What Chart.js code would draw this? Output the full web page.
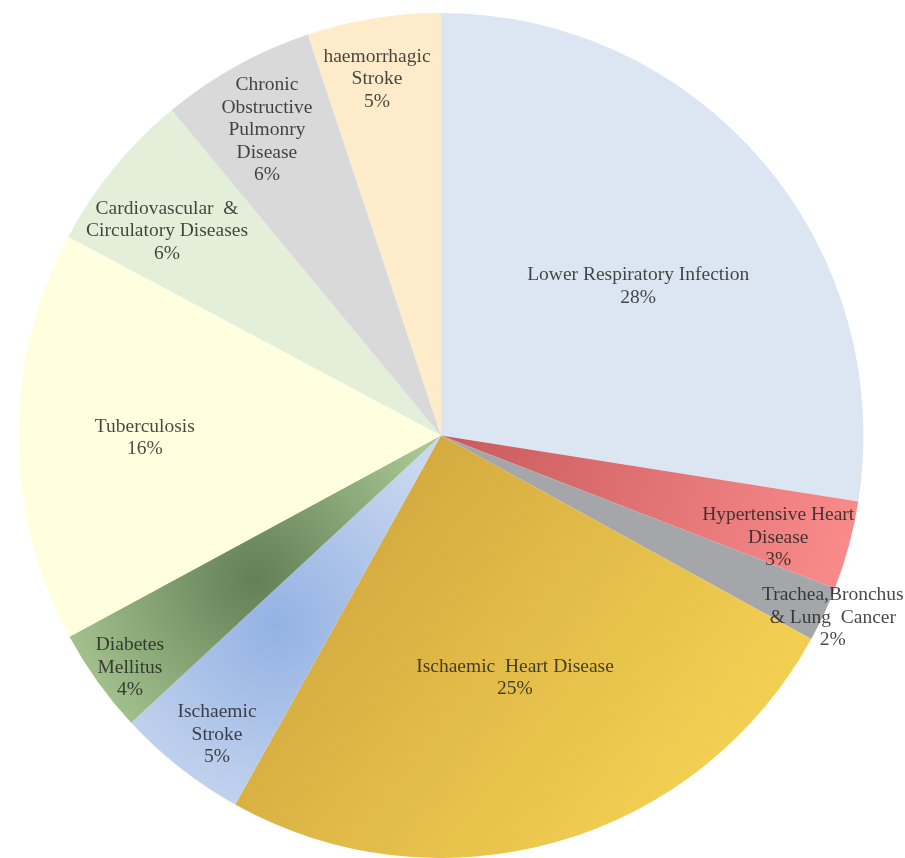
<!DOCTYPE html>
<html>
<head>
<meta charset="utf-8">
<script src="https://cdn.jsdelivr.net/npm/chart.js@4.4.1/dist/chart.umd.min.js"></script>
<style>
  body { margin: 0; background: #fff; }
  #wrap { width: 905px; height: 858px; position: relative; }
</style>
</head>
<body>
<div id="wrap"><canvas id="myChart"></canvas></div>
<script>
  // categories, clockwise from 12 o'clock
  var categories = [
    'Lower Respiratory Infection',
    'Hypertensive Heart Disease',
    'Trachea,Bronchus & Lung Cancer',
    'Ischaemic Heart Disease',
    'Ischaemic Stroke',
    'Diabetes Mellitus',
    'Tuberculosis',
    'Cardiovascular & Circulatory Diseases',
    'Chronic Obstructive Pulmonry Disease',
    'haemorrhagic Stroke'
  ];
  // share of deaths (%)
  var shares = [27.5, 3.4, 2.1, 25.1, 5.0, 4.0, 15.7, 6.2, 5.9, 5.1];

  // how the labels wrap in the picture
  var labelLines = [
    ['Lower Respiratory Infection'],
    ['Hypertensive Heart', 'Disease'],
    ['Trachea,Bronchus', '& Lung  Cancer'],
    ['Ischaemic  Heart Disease'],
    ['Ischaemic', 'Stroke'],
    ['Diabetes', 'Mellitus'],
    ['Tuberculosis'],
    ['Cardiovascular  &', 'Circulatory Diseases'],
    ['Chronic', 'Obstructive', 'Pulmonry', 'Disease'],
    ['haemorrhagic', 'Stroke']
  ];
  // label placement: fraction of radius, and turn (deg) off the slice middle
  var labelRadius = [0.585, 0.834, 1.023, 0.600, 0.885, 0.919, 0.701, 0.809, 0.832, 0.857];
  var labelTurn = [3.4, 1.75, -0.06, -0.95, -1.36, -1.11, -0.32, -2.51, -0.7, -1.0];

  var flatColors = ['#dce6f2', '#ec7c7e', '#a5a6aa', '#e6bd48', '#b7cbec', '#90ad78',
                    '#ffffe0', '#e3efd9', '#d9d9d9', '#fdebca'];

  function sliceFill(context) {
    var i = context.dataIndex;
    var chart = context.chart;
    var area = chart.chartArea;
    if (!area) return flatColors[i];
    var c = chart.ctx;
    var cx = (area.left + area.right) / 2, cy = (area.top + area.bottom) / 2;
    var r = Math.min(area.right - area.left, area.bottom - area.top) / 2;
    var g;
    if (i === 1) {
      g = c.createLinearGradient(cx, cy, cx + r, cy + r * 0.25);
      g.addColorStop(0, '#c85a5d');
      g.addColorStop(1, '#fa8c8c');
      return g;
    }
    if (i === 3) {
      g = c.createLinearGradient(cx - r * 0.35, cy + r * 0.05, cx + r * 0.6, cy + r * 0.8);
      g.addColorStop(0, '#cda23c');
      g.addColorStop(1, '#f2cf52');
      return g;
    }
    if (i === 4) {
      g = c.createRadialGradient(cx - r * 0.39, cy + r * 0.45, 0, cx - r * 0.39, cy + r * 0.45, r * 0.5);
      g.addColorStop(0, '#93b2e3');
      g.addColorStop(1, '#c9d7ef');
      return g;
    }
    if (i === 5) {
      g = c.createRadialGradient(cx - r * 0.44, cy + r * 0.34, 0, cx - r * 0.44, cy + r * 0.34, r * 0.5);
      g.addColorStop(0, '#627f56');
      g.addColorStop(1, '#a9c792');
      return g;
    }
    return flatColors[i];
  }

  var labelPlugin = {
    id: 'sliceLabels',
    afterDatasetsDraw: function (chart) {
      var ctx = chart.ctx;
      var meta = chart.getDatasetMeta(0);
      var total = shares.reduce(function (a, b) { return a + b; }, 0);
      ctx.save();
      ctx.font = '19.5px "Liberation Serif"';
      ctx.fillStyle = 'rgba(30,30,30,0.82)';
      ctx.textAlign = 'center';
      ctx.textBaseline = 'alphabetic';
      var lh = 22.5;
      meta.data.forEach(function (arc, i) {
        var mid = (arc.startAngle + arc.endAngle) / 2 + labelTurn[i] * Math.PI / 180;
        var rr = arc.outerRadius * labelRadius[i];
        var x = arc.x + Math.cos(mid) * rr;
        var y = arc.y + Math.sin(mid) * rr;
        var lines = labelLines[i].concat([Math.round(shares[i] / total * 100) + '%']);
        var y0 = y - (lines.length - 1) * lh / 2 + 5;
        lines.forEach(function (t, k) {
          ctx.fillText(t, x, y0 + k * lh);
        });
      });
      ctx.restore();
    }
  };

  new Chart(document.getElementById('myChart'), {
    type: 'pie',
    data: {
      labels: categories,
      datasets: [{
        data: shares,
        backgroundColor: sliceFill,
        borderWidth: 0
      }]
    },
    options: {
      responsive: true,
      maintainAspectRatio: false,
      animation: false,
      layout: { padding: { left: 18, right: 41, top: 13, bottom: 0 } },
      plugins: {
        legend: { display: false },
        tooltip: { enabled: false }
      }
    },
    plugins: [labelPlugin]
  });
</script>
</body>
</html>
